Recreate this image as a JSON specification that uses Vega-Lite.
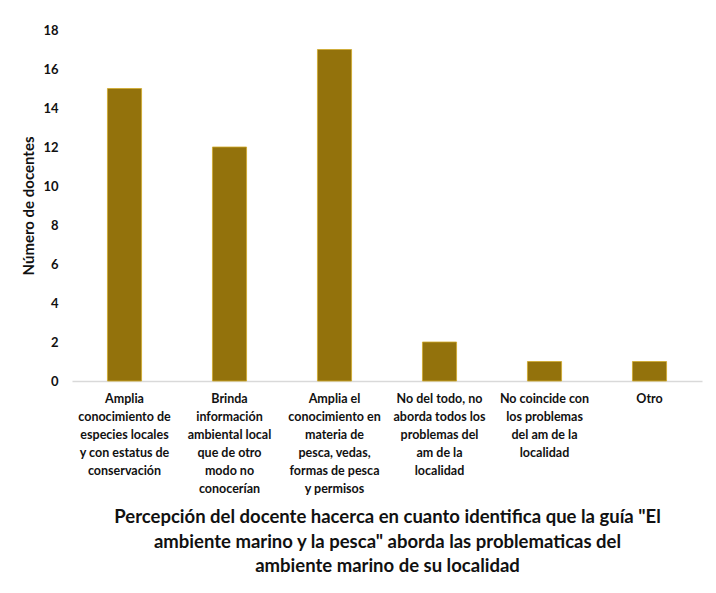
{
  "$schema": "https://vega.github.io/schema/vega-lite/v6.json",
  "width": 630,
  "height": 351,
  "autosize": {"type": "none"},
  "padding": {"left": 72, "top": 30, "right": 14, "bottom": 212},
  "background": "white",
  "config": {
    "font": "Lato",
    "view": {"stroke": null}
  },
  "data": {
    "values": [
      {"categoria": "Amplia|conocimiento de|especies locales|y con estatus de|conservación", "docentes": 15},
      {"categoria": "Brinda|información|ambiental local|que de otro|modo no|conocerían", "docentes": 12},
      {"categoria": "Amplia el|conocimiento en|materia de|pesca, vedas,|formas de pesca|y permisos", "docentes": 17},
      {"categoria": "No del todo, no|aborda todos los|problemas del|am de la|localidad", "docentes": 2},
      {"categoria": "No coincide con|los problemas|del am de la|localidad", "docentes": 1},
      {"categoria": "Otro", "docentes": 1}
    ]
  },
  "mark": {"type": "bar", "color": "#93720c", "stroke": "#d1aa2a", "strokeWidth": 0.8},
  "encoding": {
    "x": {
      "field": "categoria",
      "type": "nominal",
      "sort": null,
      "scale": {"paddingInner": 0.675, "paddingOuter": 0.3375},
      "axis": {
        "title": ["Percepción del docente hacerca en cuanto identifica que la guía \"El", "ambiente marino y la pesca\" aborda las problematicas del", "ambiente marino de su localidad"],
        "titleFontSize": 18.5,
        "titleFontWeight": "bold",
        "titleColor": "#111111",
        "titleLineHeight": 24.5,
        "titlePadding": 13,
        "labelExpr": "split(datum.label, '|')",
        "labelAngle": 0,
        "labelFontSize": 12.5,
        "labelFontWeight": "bold",
        "labelColor": "#111111",
        "labelLineHeight": 18,
        "labelPadding": 11,
        "labelBaseline": "top",
        "labelLimit": 200,
        "ticks": false,
        "domainColor": "#d9d9d9",
        "domainWidth": 1.5
      }
    },
    "y": {
      "field": "docentes",
      "type": "quantitative",
      "scale": {"domain": [0, 18]},
      "axis": {
        "title": "Número de docentes",
        "titleFontSize": 15,
        "titleFontWeight": "bold",
        "titleColor": "#111111",
        "titlePadding": 6,
        "values": [0, 2, 4, 6, 8, 10, 12, 14, 16, 18],
        "labelFontSize": 13,
        "labelFontWeight": "bold",
        "labelColor": "#111111",
        "labelPadding": 14,
        "grid": false,
        "ticks": false,
        "domain": false
      }
    }
  }
}
